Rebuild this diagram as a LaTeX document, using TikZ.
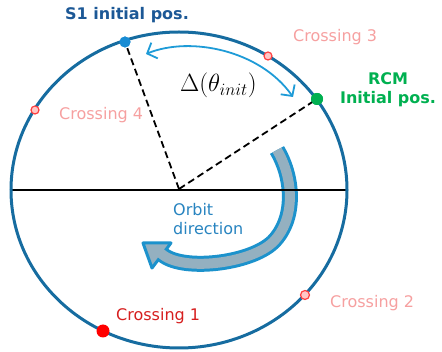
\documentclass[tikz,border=0pt]{standalone}
\usepackage{fontspec}
\setmainfont{DejaVu Sans}
\usetikzlibrary{arrows.meta}
\definecolor{orbitblue}{RGB}{22,108,160}
\definecolor{sone}{RGB}{24,140,212}
\definecolor{sonetext}{RGB}{28,88,150}
\definecolor{rcmgreen}{RGB}{0,176,80}
\definecolor{crosspink}{RGB}{246,160,160}
\definecolor{crossred}{RGB}{214,30,30}
\definecolor{dotred}{RGB}{255,0,0}
\definecolor{deltablue}{RGB}{30,155,215}
\definecolor{bandblue}{RGB}{28,146,204}
\definecolor{bandgray}{RGB}{148,176,192}
\definecolor{orbittext}{RGB}{40,132,192}
\begin{document}
\begin{tikzpicture}[x=1pt,y=-1pt,
  lbl/.style={inner sep=0pt, anchor=base west, font=\fontsize{16}{19}\selectfont},
  lblc/.style={inner sep=0pt, anchor=base, font=\fontsize{16}{19}\selectfont\bfseries},
  smalldot/.style={circle, draw=red!75, fill=red!22, line width=1.2pt, minimum size=8pt, inner sep=0pt},
  bigdot/.style={circle, inner sep=0pt, minimum size=#1},
  dashline/.style={black, line width=1.8pt, dash pattern=on 7pt off 4pt},
  deltaarrow/.style={deltablue, line width=1.8pt, {Straight Barb[length=8pt,width=17pt]}-{Straight Barb[length=8pt,width=17pt]}}
]
\useasboundingbox (0,0) rectangle (442,352);

% orbit direction arrow
\draw[bandblue, line width=16pt] (277,150) .. controls (292,175) and (297,215) .. (275,240) .. controls (255,263) and (185,272) .. (163,255);
\filldraw[draw=bandblue, fill=bandgray, line width=3pt, line join=round] (143,243) -- (171,243) -- (152,268) -- cycle;
\draw[bandgray, line width=10pt] (277,150) .. controls (292,175) and (297,215) .. (275,240) .. controls (255,263) and (185,272) .. (163,255) -- (158,251);

% horizontal line and orbit
\coordinate (O) at (179,189);
\coordinate (L) at (11,190);
\coordinate (R) at (347,190);
\draw[black, line width=2pt] (L) -- (R);
\draw[orbitblue, line width=3pt] (179,190) ellipse [x radius=168, y radius=158];

% dots
\node[bigdot=11pt, fill=sone] (s1) at (125,42) {};
\node[bigdot=12pt, fill=rcmgreen] (rcm) at (317,99) {};
\node[smalldot] (c3) at (268,56) {};
\node[smalldot] (c4) at (35,110) {};
\node[smalldot, minimum size=9pt] (c2) at (305,295) {};
\node[bigdot=13pt, fill=dotred] (c1) at (103,331) {};

% dashed radii
\draw[dashline] (O) -- (s1.center);
\draw[dashline] (O) -- (rcm.center);
\node[bigdot=11pt, fill=sone] at (s1) {};
\node[bigdot=12pt, fill=rcmgreen] at (rcm) {};

% delta arrow
\coordinate (dA) at (146,54);
\coordinate (dB) at (293,97);
\draw[deltaarrow] (dA) .. controls (190,36) and (260,50) .. (dB);

% labels
\node[lbl, font=\fontsize{16}{19}\selectfont\bfseries, text=sonetext] (ts1) at (65,20) {S1 initial pos.};
\node[lbl, text=crosspink] (tc3) at (293,42) {Crossing 3};
\node[lbl, text=crosspink] (tc4) at (59,120) {Crossing 4};
\node[lbl, text=crosspink] (tc2) at (330,308) {Crossing 2};
\node[lbl, text=crossred] (tc1) at (116,321) {Crossing 1};
\node[lblc, text=rcmgreen] (trcm) at (388,85) {RCM};
\node[lblc, text=rcmgreen] (tinit) at (388,104) {Initial pos.};
\node[lbl, text=orbittext] (torb) at (173,216) {Orbit};
\node[lbl, text=orbittext] (tdir) at (173,235) {direction};
\node[inner sep=0pt, anchor=base west, font=\fontsize{23}{27}\selectfont] (tdelta) at (180,92) {$\Delta(\theta_{init})$};
\end{tikzpicture}
\end{document}
